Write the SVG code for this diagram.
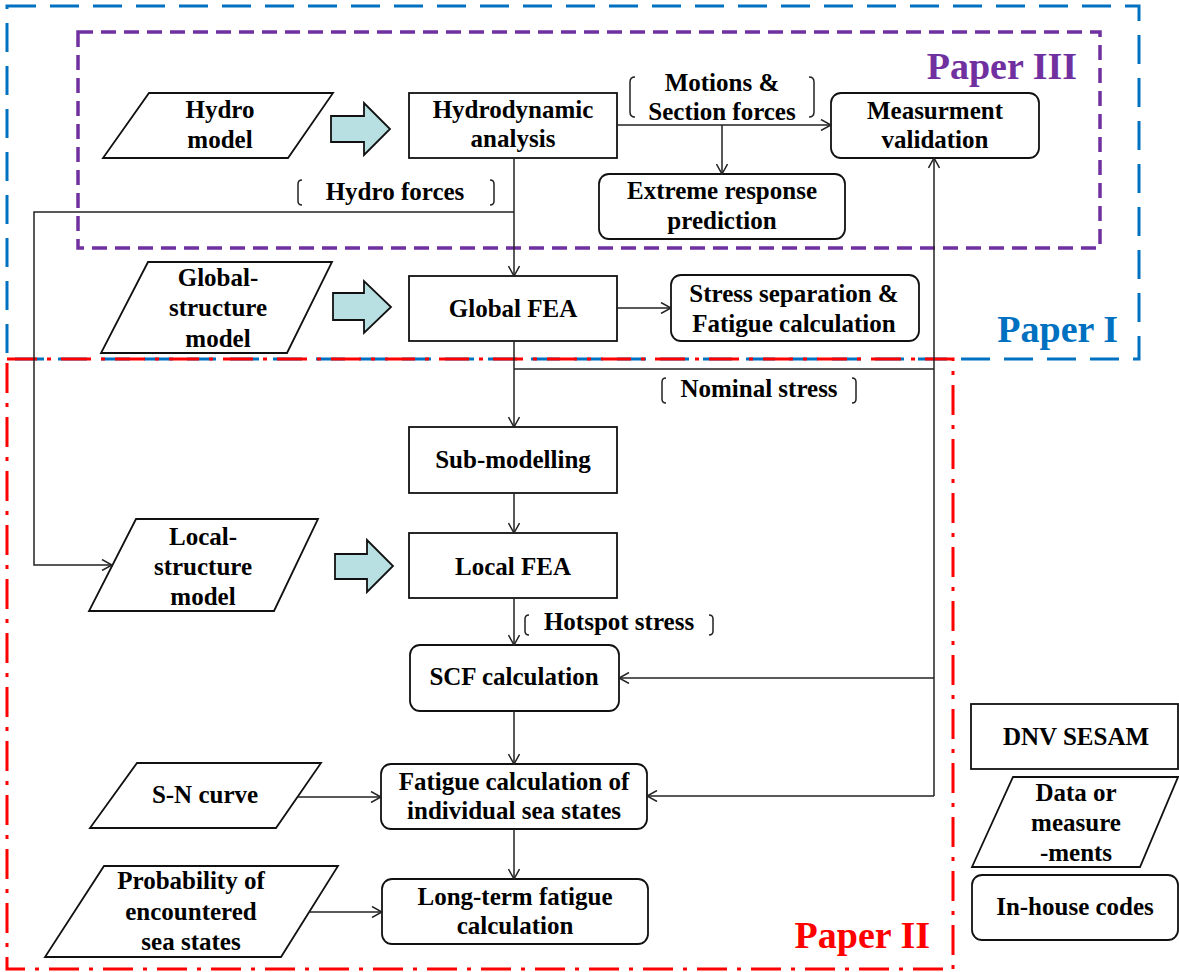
<svg xmlns="http://www.w3.org/2000/svg" width="1179" height="972" viewBox="0 0 1179 972">
<defs>
<marker id="ah" viewBox="0 0 12 12" refX="11" refY="6" markerWidth="12" markerHeight="12" markerUnits="userSpaceOnUse" orient="auto">
<path d="M1,0.5 L11,6 L1,11.5" fill="none" stroke="#222" stroke-width="1.5"/>
</marker>
</defs>
<style>
text{font-family:"Liberation Serif","Times New Roman",serif;font-weight:bold;font-size:25px;fill:#000;text-anchor:middle}
.box{fill:#fff;stroke:#111;stroke-width:1.8}
.blk{fill:#b8dfe1;stroke:#111;stroke-width:1.8}
.con{fill:none;stroke:#222;stroke-width:1.5}
.arr{marker-end:url(#ah)}
.br{fill:none;stroke:#222;stroke-width:1.5}
.paper{font-size:38px;text-anchor:end}
</style>
<rect width="1179" height="972" fill="#fff"/>
<g id="boundaries">
<rect x="7" y="6" width="1132" height="353" fill="none" stroke="#0070c0" stroke-width="3" stroke-dasharray="29 14"/>
<rect x="78" y="32" width="1022" height="216" fill="none" stroke="#7030a0" stroke-width="3.5" stroke-dasharray="15 8"/>
<rect x="7" y="359" width="946" height="610" fill="none" stroke="#ff0000" stroke-width="3" stroke-dasharray="30 10 4 10"/>
<text class="paper" x="1077" y="79" fill="#7030a0" style="fill:#7030a0">Paper III</text>
<text class="paper" x="1118" y="342" style="fill:#0070c0">Paper I</text>
<text class="paper" x="930" y="948" style="fill:#ff0000">Paper II</text>
</g>
<g id="hydro-model">
<polygon class="box" points="149,93 333,93 288,158 103,158"/>
<text x="220" y="118">Hydro</text><text x="220" y="148">model</text>
</g>
<g id="blockarrow-1"><polygon class="blk" points="331,116 364,116 364,103 390,129 364,155 364,142 331,142"/></g>
<g id="hydrodynamic-analysis">
<rect class="box" x="409" y="93" width="208" height="65"/>
<text x="513" y="118">Hydrodynamic</text><text x="513" y="147">analysis</text>
</g>
<g id="label-motions">
<path class="br" d="M635,77 Q630,77 630,82 L630,112 Q630,117 635,117"/>
<path class="br" d="M809,77 Q814,77 814,82 L814,112 Q814,117 809,117"/>
<text x="722" y="91">Motions &amp;</text><text x="722" y="120">Section forces</text>
</g>
<g id="measurement-validation">
<rect class="box" x="831" y="93" width="208" height="65" rx="10"/>
<text x="935" y="119">Measurment</text><text x="935" y="148">validation</text>
</g>
<g id="extreme-response">
<rect class="box" x="599" y="174" width="246" height="65" rx="10"/>
<text x="722" y="199">Extreme response</text><text x="722" y="229">prediction</text>
</g>
<g id="label-hydro-forces">
<path class="br" d="M302,180 Q298,180 298,184 L298,201 Q298,205 302,205"/>
<path class="br" d="M490,180 Q494,180 494,184 L494,201 Q494,205 490,205"/>
<text x="395" y="200">Hydro forces</text>
</g>
<g id="global-structure-model">
<polygon class="box" points="148,262 332,262 287,353 101,353"/>
<text x="218" y="286">Global-</text><text x="218" y="316">structure</text><text x="218" y="347">model</text>
</g>
<g id="blockarrow-2"><polygon class="blk" points="333,293 364,293 364,281 391,307 364,333 364,320 333,320"/></g>
<g id="global-fea">
<rect class="box" x="409" y="276" width="208" height="65"/>
<text x="513" y="317">Global FEA</text>
</g>
<g id="stress-separation">
<rect class="box" x="671" y="275" width="248" height="66" rx="10"/>
<text x="794" y="302">Stress separation &amp;</text><text x="794" y="332">Fatigue calculation</text>
</g>
<g id="label-nominal">
<path class="br" d="M666,378 Q662,378 662,382 L662,399 Q662,403 666,403"/>
<path class="br" d="M852,378 Q856,378 856,382 L856,399 Q856,403 852,403"/>
<text x="759" y="397">Nominal stress</text>
</g>
<g id="sub-modelling">
<rect class="box" x="409" y="427" width="208" height="66"/>
<text x="513" y="468">Sub-modelling</text>
</g>
<g id="local-structure-model">
<polygon class="box" points="136,519 318,519 274,611 89,611"/>
<text x="203" y="545">Local-</text><text x="203" y="575">structure</text><text x="203" y="605">model</text>
</g>
<g id="blockarrow-3"><polygon class="blk" points="335,554 367,554 367,540 393,566 367,592 367,579 335,579"/></g>
<g id="local-fea">
<rect class="box" x="409" y="533" width="208" height="65"/>
<text x="513" y="575">Local FEA</text>
</g>
<g id="label-hotspot">
<path class="br" d="M529,615 Q525,615 525,619 L525,631 Q525,635 529,635"/>
<path class="br" d="M709,615 Q713,615 713,619 L713,631 Q713,635 709,635"/>
<text x="619" y="630">Hotspot stress</text>
</g>
<g id="scf-calculation">
<rect class="box" x="410" y="645" width="209" height="66" rx="10"/>
<text x="514" y="685">SCF calculation</text>
</g>
<g id="sn-curve">
<polygon class="box" points="137,763 321,763 276,828 90,828"/>
<text x="205" y="803">S-N curve</text>
</g>
<g id="fatigue-individual">
<rect class="box" x="381" y="764" width="266" height="65" rx="10"/>
<text x="514" y="790">Fatigue calculation of</text><text x="514" y="819">individual sea states</text>
</g>
<g id="probability">
<polygon class="box" points="104,866 338,866 281,957 45,957"/>
<text x="191" y="889">Probability of</text><text x="191" y="920">encountered</text><text x="191" y="950">sea states</text>
</g>
<g id="long-term">
<rect class="box" x="382" y="879" width="266" height="65" rx="10"/>
<text x="515" y="905">Long-term fatigue</text><text x="515" y="934">calculation</text>
</g>
<g id="legend-dnv">
<rect class="box" x="971" y="704" width="207" height="65"/>
<text x="1076" y="745">DNV SESAM</text>
</g>
<g id="legend-data">
<polygon class="box" points="1013,777 1178,777 1140,867 972,867"/>
<text x="1076" y="801">Data or</text><text x="1076" y="831">measure</text><text x="1076" y="861">-ments</text>
</g>
<g id="legend-inhouse">
<rect class="box" x="972" y="875" width="206" height="65" rx="10"/>
<text x="1075" y="915">In-house codes</text>
</g>
<g id="connectors">
<path class="con arr" d="M617,125 L831,125"/>
<path class="con arr" d="M722,125 L722,174"/>
<path class="con arr" d="M514,158 L514,276"/>
<path class="con arr" d="M514,212 L34,212 L34,565 L112,565"/>
<path class="con arr" d="M617,308 L671,308"/>
<path class="con arr" d="M514,341 L514,427"/>
<path class="con" d="M514,369 L934,369"/>
<path class="con arr" d="M934,796 L934,158"/>
<path class="con arr" d="M934,678 L619,678"/>
<path class="con arr" d="M934,796 L647,796"/>
<path class="con arr" d="M514,493 L514,533"/>
<path class="con arr" d="M514,598 L514,645"/>
<path class="con arr" d="M514,711 L514,764"/>
<path class="con arr" d="M298,797 L381,797"/>
<path class="con arr" d="M514,829 L514,879"/>
<path class="con arr" d="M310,912 L382,912"/>
</g>
</svg>
